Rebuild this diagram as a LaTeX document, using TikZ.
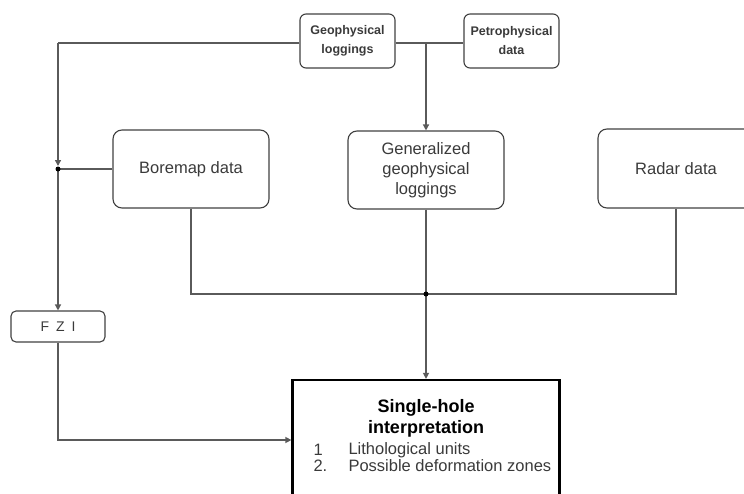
\documentclass[tikz,border=0pt]{standalone}
\usepackage{fontspec}
\setmainfont{Liberation Sans}
\usetikzlibrary{arrows.meta}
\definecolor{linegray}{HTML}{5A5A5A}
\definecolor{boxgray}{HTML}{404040}
\definecolor{txtgray}{HTML}{3A3A3A}
\tikzset{
  rbox/.style={draw=boxgray, line width=1.1pt, rounded corners=9pt, inner sep=0pt, align=center, text=txtgray, font=\fontsize{16.5}{20}\selectfont},
  sbox/.style={draw=boxgray, line width=1.1pt, rounded corners=6pt, inner sep=0pt, align=center, text=txtgray, font=\bfseries\fontsize{12.5}{19}\selectfont},
  conn/.style={draw=linegray, line width=1.3pt},
  arr/.style={conn, -{Triangle[length=6pt,width=6pt]}},
  dotc/.style={circle, fill=black, inner sep=0pt, minimum size=5pt},
  itemtxt/.style={font=\fontsize{16.5}{18}\selectfont, text=txtgray, anchor=west},
}
\begin{document}
\begin{tikzpicture}[x=1pt,y=-1pt]
\useasboundingbox (0,0) rectangle (744,493);
\clip (0,0) rectangle (744,493);
% top boxes
\node[sbox, minimum width=95pt, minimum height=54pt] (geo) at (347.5,41) {Geophysical\\loggings};
\node[sbox, minimum width=95pt, minimum height=54pt] (petro) at (511.5,41) {Petrophysical\\data};
% middle boxes
\node[rbox, minimum width=156pt, minimum height=78pt] (bore) at (191,169) {Boremap data};
\node[rbox, minimum width=156pt, minimum height=78pt] (gen) at (426,170) {Generalized\\geophysical\\loggings};
\node[rbox, minimum width=156pt, minimum height=79pt] (radar) at (676,168.5) {Radar data};
% FZI
\node[rbox, rounded corners=5pt, minimum width=94pt, minimum height=31pt, font=\fontsize{14}{16}\selectfont] (fzi) at (58,326.5) {F\hspace{7pt}Z\hspace{7pt}I};
% single-hole box
\node[draw=black, line width=2.2pt, minimum width=267pt, minimum height=120pt, inner sep=0pt] (single) at (426,440) {};
\node[font=\bfseries\fontsize{18}{21}\selectfont, align=center, text=black] (title) at (426,418) {Single-hole\\interpretation};
\node[itemtxt] (n1) at (310,450) {1};
\node[itemtxt] (t1) at (345,450) {Lithological units};
\node[itemtxt] (n2) at (310,466) {2.};
\node[itemtxt] (t2) at (345,466) {Possible deformation zones};
% coordinates
\coordinate (c1) at (58,43);
\coordinate (gw) at (geo.west |- c1);
\coordinate (ge) at (geo.east |- c1);
\coordinate (pw) at (petro.west |- c1);
\coordinate (m) at (426,43);
\coordinate (j1) at (58,169);
\coordinate (j2) at (426,294);
% connectors
\draw[conn] (gw) -- (c1);
\draw[arr, shorten >=3pt] (c1) -- (j1);
\draw[conn] (bore.west) -- (j1);
\draw[arr] (j1) -- (fzi.north);
\draw[conn] (ge) -- (pw);
\draw[arr] (m) -- (gen.north);
\draw[conn] (bore.south) |- (j2);
\draw[conn] (radar.south) |- (j2);
\draw[conn] (gen.south) -- (j2);
\draw[arr] (j2) -- (single.north);
\draw[arr] (fzi.south) |- (single.west);
\node[dotc] (d1) at (j1) {};
\node[dotc] (d2) at (j2) {};
\end{tikzpicture}
\end{document}
